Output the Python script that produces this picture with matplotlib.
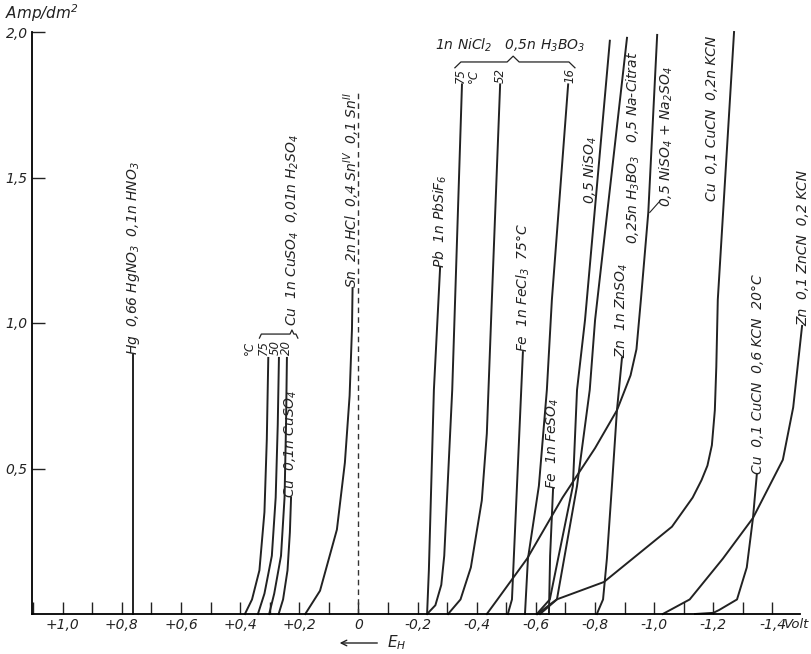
# Stromdichte-Potential-Kurven fuer die Metallabscheidung
import matplotlib.pyplot as plt

plt.rcParams['font.family'] = ['Liberation Sans Narrow', 'DejaVu Sans']
plt.rcParams['font.style'] = 'italic'
plt.rcParams['mathtext.fontset'] = 'custom'
plt.rcParams['mathtext.rm'] = 'Liberation Sans Narrow:italic'
plt.rcParams['mathtext.it'] = 'Liberation Sans Narrow:italic'
plt.rcParams['mathtext.default'] = 'it'

# curves: potential E_H (Volt) and current density (Amp/dm^2)
hg_v = [0.762, 0.762]
hg_i = [0.0, 0.89]
cu75_v = [0.384, 0.36, 0.335, 0.318, 0.31, 0.305]
cu75_i = [0.0, 0.05, 0.15, 0.35, 0.6, 0.88]
cu50_v = [0.340, 0.318, 0.293, 0.28, 0.273, 0.269]
cu50_i = [0.0, 0.07, 0.2, 0.4, 0.65, 0.88]
cu20_v = [0.302, 0.285, 0.262, 0.25, 0.245, 0.242]
cu20_i = [0.0, 0.07, 0.2, 0.4, 0.65, 0.88]
cu01_v = [0.27, 0.255, 0.24, 0.232, 0.228]
cu01_i = [0.0, 0.05, 0.15, 0.28, 0.40]
sn_v = [0.18, 0.13, 0.073, 0.046, 0.03, 0.022, 0.02]
sn_i = [0.0, 0.08, 0.29, 0.52, 0.75, 0.98, 1.12]
pb_v = [-0.232, -0.238, -0.255, -0.276]
pb_i = [0.0, 0.15, 0.77, 1.19]
ni75_v = [-0.232, -0.26, -0.28, -0.29, -0.317, -0.35]
ni75_i = [0.0, 0.03, 0.1, 0.2, 0.77, 1.82]
ni52_v = [-0.303, -0.345, -0.38, -0.417, -0.434, -0.451, -0.479]
ni52_i = [0.0, 0.05, 0.16, 0.39, 0.62, 1.08, 1.82]
ni16_v = [-0.563, -0.573, -0.61, -0.637, -0.654, -0.709]
ni16_i = [0.0, 0.19, 0.44, 0.77, 1.08, 1.82]
fecl3_v = [-0.505, -0.519, -0.556]
fecl3_i = [0.0, 0.05, 0.90]
feso4_v = [-0.644, -0.648, -0.658]
feso4_i = [0.0, 0.2, 0.43]
niso4_v = [-0.603, -0.647, -0.725, -0.739, -0.766, -0.85]
niso4_i = [0.0, 0.05, 0.44, 0.77, 1.01, 1.97]
citrat_v = [-0.614, -0.671, -0.739, -0.782, -0.80, -0.908]
citrat_i = [0.0, 0.05, 0.44, 0.77, 1.01, 1.98]
na2so4_v = [-0.434, -0.47, -0.57, -0.69, -0.80, -0.874, -0.92, -0.94, -0.955, -0.98, -1.01]
na2so4_i = [0.0, 0.05, 0.19, 0.4, 0.57, 0.70, 0.82, 0.91, 1.08, 1.38, 1.99]
zn_v = [-0.806, -0.827, -0.840, -0.857, -0.874, -0.891]
zn_i = [0.0, 0.05, 0.19, 0.44, 0.70, 0.88]
kcn02_v = [-0.605, -0.67, -0.83, -1.06, -1.13, -1.16, -1.18, -1.195, -1.205, -1.21, -1.215, -1.27]
kcn02_i = [0.0, 0.05, 0.11, 0.30, 0.40, 0.46, 0.51, 0.58, 0.70, 0.85, 1.08, 2.0]
zncn_v = [-1.029, -1.12, -1.232, -1.334, -1.435, -1.47, -1.50]
zncn_i = [0.0, 0.05, 0.19, 0.33, 0.53, 0.71, 0.99]
cucn06_v = [-1.138, -1.2, -1.22, -1.28, -1.313, -1.334, -1.347]
cucn06_i = [0.0, 0.004, 0.014, 0.05, 0.16, 0.33, 0.48]

curves = [(hg_v, hg_i), (cu75_v, cu75_i), (cu50_v, cu50_i), (cu20_v, cu20_i),
          (cu01_v, cu01_i), (sn_v, sn_i), (pb_v, pb_i), (ni75_v, ni75_i),
          (ni52_v, ni52_i), (ni16_v, ni16_i), (fecl3_v, fecl3_i),
          (feso4_v, feso4_i), (niso4_v, niso4_i), (citrat_v, citrat_i),
          (na2so4_v, na2so4_i), (zn_v, zn_i), (kcn02_v, kcn02_i),
          (zncn_v, zncn_i), (cucn06_v, cucn06_i)]

# rotated labels: text, position (V, I) of the lower end
labels = [
    ('Hg  0,66 HgNO$_3$  0,1n HNO$_3$', 0.762, 0.89),
    ('Cu  0,1n CuSO$_4$', 0.228, 0.40),
    ('Cu  1n CuSO$_4$  0,01n H$_2$SO$_4$', 0.222, 0.99),
    ('Sn  2n HCl  0,4 Sn$^{IV}$  0,1 Sn$^{II}$', 0.022, 1.12),
    ('Pb  1n PbSiF$_6$', -0.276, 1.19),
    ('Fe  1n FeCl$_3$  75°C', -0.556, 0.90),
    ('Fe  1n FeSO$_4$', -0.658, 0.43),
    ('Zn  1n ZnSO$_4$', -0.891, 0.88),
    ('0,5 NiSO$_4$', -0.783, 1.41),
    ('0,25n H$_3$BO$_3$   0,5 Na-Citrat', -0.928, 1.27),
    ('0,5 NiSO$_4$ + Na$_2$SO$_4$', -1.04, 1.40),
    ('Cu  0,1 CuCN  0,2n KCN', -1.195, 1.42),
    ('Cu  0,1 CuCN  0,6 KCN  20°C', -1.351, 0.48),
    ('Zn  0,1 ZnCN  0,2 KCN', -1.503, 0.99),
]
# small temperature marks at the curve ends
temp_labels = [
    ('°C', 0.37, 0.89), ('75', 0.323, 0.89), ('50', 0.283, 0.89), ('20', 0.243, 0.89),
    ('75', -0.345, 1.825), ('°C', -0.39, 1.825), ('52', -0.478, 1.825), ('16', -0.715, 1.825),
]

xticks = [1.0, 0.8, 0.6, 0.4, 0.2, 0.0, -0.2, -0.4, -0.6, -0.8, -1.0, -1.2, -1.4]
xtick_labels = ['+1,0', '+0,8', '+0,6', '+0,4', '+0,2', '0', '-0,2', '-0,4',
                '-0,6', '-0,8', '-1,0', '-1,2', '-1,4']
xminor = [1.1, 0.9, 0.7, 0.5, 0.3, 0.1, -0.1, -0.3, -0.5, -0.7, -0.9, -1.1, -1.3]
yticks = [0.5, 1.0, 1.5, 2.0]
ytick_labels = ['0,5', '1,0', '1,5', '2,0']


def brace(ax, x1, x2, xm, y, d):
    # curly bracket, legs pointing down, tip pointing up
    s = (x2 - x1) * 0.05
    xs = [x1, x1 + s, xm - s, xm, xm + s, x2 - s, x2]
    ys = [y - d, y, y, y + d, y, y, y - d]
    ax.plot(xs, ys, color='#222222', lw=0.9, clip_on=False)


fig = plt.figure(figsize=(8.12, 6.54), dpi=100)
ax = fig.add_axes([32 / 812, 1 - 614 / 654, (800 - 32) / 812, (614 - 32) / 654])

for v, i in curves:
    ax.plot(v, i, color='#222222', lw=1.4, clip_on=False)

# reference line at 0 Volt
ax.plot([0.0, 0.0], [0.0, 1.80], color='#333333', lw=1.0, ls=(0, (4, 3)))

for text, v, i in labels:
    ax.text(v, i, text, rotation=90, ha='center', va='bottom', fontsize=10,
            color='#222222', clip_on=False)
for text, v, i in temp_labels:
    ax.text(v, i, text, rotation=90, ha='center', va='bottom', fontsize=8.5,
            color='#222222', clip_on=False)

# braces and group labels
brace(ax, 0.335, 0.205, 0.225, 0.962, 0.014)
brace(ax, -0.326, -0.732, -0.523, 1.897, 0.02)
ax.text(-0.512, 1.955, '1n NiCl$_2$   0,5n H$_3$BO$_3$', ha='center', va='center',
        fontsize=10, color='#222222', clip_on=False)

# leader for NiSO4 + Na2SO4
ax.plot([-0.985, -1.02], [1.38, 1.42], color='#222222', lw=0.8)

ax.set_xlim(1.104, -1.493)
ax.set_ylim(0, 2.0)
ax.spines['top'].set_visible(False)
ax.spines['right'].set_visible(False)
ax.spines['left'].set_linewidth(1.3)
ax.spines['bottom'].set_linewidth(1.3)
ax.set_xticks(xticks)
ax.set_xticklabels(xtick_labels)
ax.set_xticks(xminor, minor=True)
ax.set_yticks(yticks)
ax.set_yticklabels(ytick_labels)
ax.tick_params(which='both', direction='in', length=9, width=1.0, labelsize=10,
               colors='#222222', pad=3)

ax.text(-1.44, -0.014, 'Volt', ha='left', va='top', fontsize=9.5, color='#222222',
        clip_on=False)
fig.text(5 / 812, 1 - 13 / 654, 'Amp/dm$^2$', ha='left', va='center', fontsize=11,
         color='#222222')

# E_H arrow below the axis
ax.annotate('', xy=(0.073, 11), xycoords=('data', 'figure pixels'),
            xytext=(-0.073, 11), textcoords=('data', 'figure pixels'),
            arrowprops=dict(arrowstyle='->', color='#222222', lw=1.0))
ax.annotate('E$_H$', xy=(-0.095, 11), xycoords=('data', 'figure pixels'),
            ha='left', va='center', fontsize=11, color='#222222')

plt.savefig('out.png', dpi=100)
